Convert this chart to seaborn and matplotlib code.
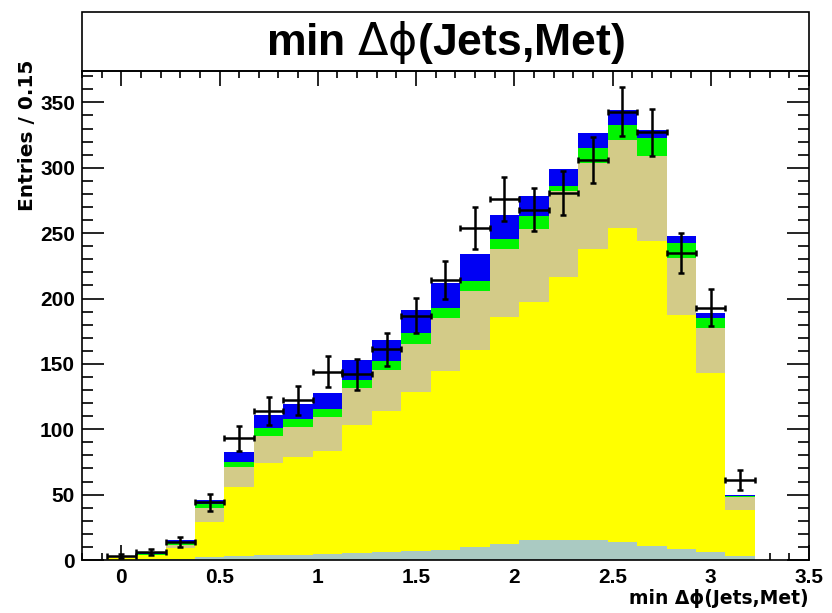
import numpy as np
import pandas as pd
import matplotlib
matplotlib.use("Agg")
import matplotlib.pyplot as plt
import seaborn as sns
from matplotlib.patches import Rectangle
from matplotlib.ticker import MultipleLocator

# ---------------- data ----------------
bin_centers = [0.00, 0.15, 0.30, 0.45, 0.60, 0.75, 0.90, 1.05, 1.20, 1.35, 1.50,
               1.65, 1.80, 1.95, 2.10, 2.25, 2.40, 2.55, 2.70, 2.85, 3.00, 3.15]
bin_width = 0.15

# stacked background components (bottom -> top)
teal   = [0.3, 0.5, 1.0, 2.0, 3.0, 3.5, 4.0, 4.5, 5.0, 6.0, 7.0,
          8.0, 10.0, 12.5, 15.0, 15.5, 15.5, 14.0, 10.7, 8.2, 6.4, 3.0]
yellow = [1.2, 3.0, 8.0, 26.8, 52.6, 71.0, 74.6, 78.5, 98.0, 107.6, 121.4,
          136.2, 150.3, 173.3, 182.0, 201.2, 222.5, 240.3, 233.0, 179.4, 136.6, 35.3]
khaki  = [0.5, 0.7, 2.5, 10.8, 15.4, 20.7, 23.4, 26.2, 28.4, 31.9, 37.0,
          40.8, 45.2, 52.1, 56.2, 65.3, 65.7, 67.3, 65.6, 43.4, 34.4, 9.7]
green  = [0.2, 0.3, 1.5, 3.4, 4.3, 5.6, 5.7, 6.4, 6.6, 6.5, 8.2,
          8.0, 8.0, 7.7, 9.7, 4.4, 11.5, 11.4, 13.2, 11.5, 7.6, 0.7]
blue   = [0.3, 0.5, 2.0, 2.9, 7.6, 10.2, 11.7, 12.4, 15.1, 15.9, 17.8,
          18.9, 20.6, 18.6, 15.6, 12.7, 11.5, 11.0, 6.7, 5.1, 3.9, 1.1]

# observed data
data = [3, 6, 14, 44, 93, 114, 122, 144, 142, 161, 187,
        214, 254, 276, 268, 281, 306, 343, 327, 235, 193, 61]

components = {"teal": teal, "yellow": yellow, "khaki": khaki, "green": green, "blue": blue}
colors = {"teal": "#aacac2", "yellow": "#ffff00", "khaki": "#d3cb88",
          "green": "#00f400", "blue": "#0000f4"}

x_ticks = [0, 0.5, 1, 1.5, 2, 2.5, 3, 3.5]
x_ticklabels = ["0", "0.5", "1", "1.5", "2", "2.5", "3", "3.5"]
y_ticks = [0, 50, 100, 150, 200, 250, 300, 350]
y_ticklabels = ["0", "50", "100", "150", "200", "250", "300", "350"]

title_math = r"min $\mathrm{\Delta\phi}$(Jets,Met)"
xlabel_text = "min \u0394\u03d5(Jets,Met)"
ylabel_text = "Entries / 0.15"

# ---------------- figure ----------------
W, H = 832, 613
sns.set_style("ticks")
plt.rcParams["font.family"] = ["DejaVu Sans"]
plt.rcParams["text.color"] = "black"
plt.rcParams["mathtext.fontset"] = "dejavusans"
fig = plt.figure(figsize=(W / 100, H / 100), dpi=100)

ax_l, ax_r, ax_t, ax_b = 82, 809, 71, 560
ax = fig.add_axes([ax_l / W, 1 - ax_b / H, (ax_r - ax_l) / W, (ax_b - ax_t) / H])

rows = []
for name, vals in components.items():
    for c, v in zip(bin_centers, vals):
        rows.append({"x": c, "w": v, "comp": name})
df = pd.DataFrame(rows)

lo = bin_centers[0] - bin_width / 2
hi = bin_centers[-1] + bin_width / 2

sns.histplot(data=df, x="x", weights="w", hue="comp", multiple="stack",
             bins=len(bin_centers), binrange=(lo, hi),
             hue_order=["blue", "green", "khaki", "yellow", "teal"],
             palette=colors, alpha=1, linewidth=0, legend=False, ax=ax)

ax.errorbar(bin_centers, data, xerr=bin_width / 2, yerr=np.sqrt(data),
            fmt="none", ecolor="black", elinewidth=1.8, capsize=2.5, capthick=1.8,
            zorder=5)

ax.set_xlim(-0.2, 3.5)
ax.set_ylim(0, 374)
ax.set_xlabel("")
ax.set_ylabel("")

tick_font = {"family": ["Liberation Sans", "DejaVu Sans"], "weight": "bold", "size": 15}
ax.set_xticks(x_ticks)
ax.set_xticklabels(x_ticklabels, fontdict=tick_font)
ax.set_yticks(y_ticks)
ax.set_yticklabels(y_ticklabels, fontdict=tick_font)
ax.xaxis.set_minor_locator(MultipleLocator(0.1))
ax.yaxis.set_minor_locator(MultipleLocator(10))

ax.tick_params(axis="both", which="both", direction="in", colors="black", width=1.2)
ax.tick_params(axis="y", which="major", length=16, left=True, right=True, pad=5)
ax.tick_params(axis="y", which="minor", length=8, left=True, right=True)
ax.tick_params(axis="x", which="major", length=11, bottom=True, top=True, pad=6)
ax.tick_params(axis="x", which="minor", length=5, bottom=True, top=True)
for sp in ax.spines.values():
    sp.set_visible(True)
    sp.set_color("black")
    sp.set_linewidth(1.2)

# title box
box_top = 12
fig.add_artist(Rectangle((ax_l / W, 1 - ax_t / H), (ax_r - ax_l) / W, (ax_t - box_top) / H,
                         transform=fig.transFigure, fill=False, lw=1.2, ec="black"))
fig.text((ax_l + ax_r) / 2 / W, 1 - 42 / H, title_math, ha="center", va="center",
         fontsize=32, fontweight="bold", color="black",
         family=["Liberation Sans", "DejaVu Sans"])

# axis labels
fig.text(ax_r / W, 1 - 598 / H, xlabel_text, ha="right", va="center",
         fontsize=13.5, fontweight="bold", color="black")
fig.text(28 / W, 1 - 60 / H, ylabel_text, ha="center", va="top", rotation=90,
         fontsize=14.5, fontweight="bold", color="black")

fig.savefig("out.png", dpi=100)
